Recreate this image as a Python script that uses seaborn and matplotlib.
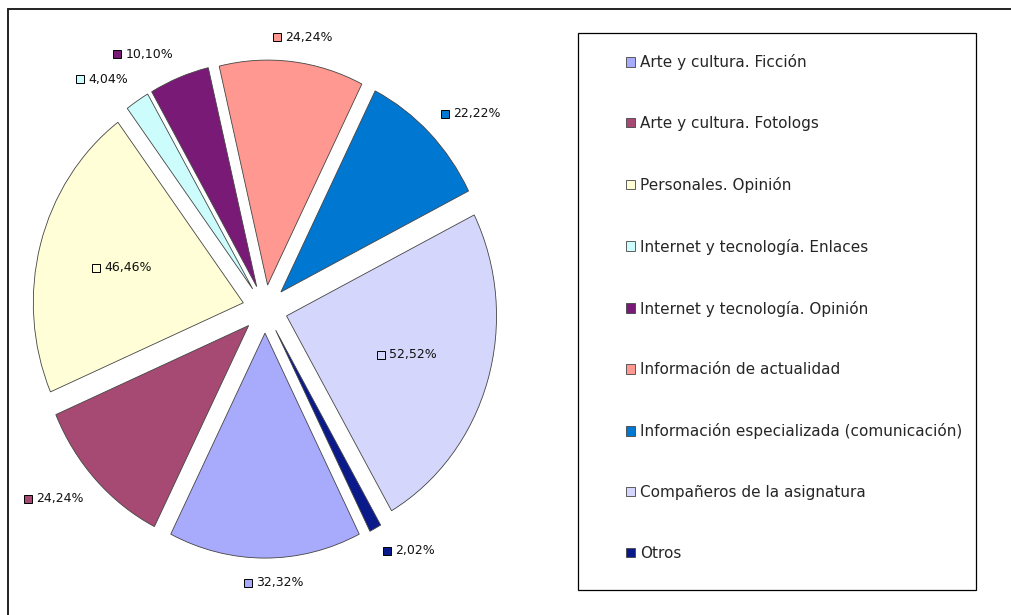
import numpy as np
import matplotlib
matplotlib.use("Agg")
import matplotlib.pyplot as plt
import seaborn as sns
from matplotlib.offsetbox import AnnotationBbox, DrawingArea, TextArea, HPacker
from matplotlib.patches import Rectangle
from matplotlib.lines import Line2D

# Data
categories = [
    "Arte y cultura. Ficción",
    "Arte y cultura. Fotologs",
    "Personales. Opinión",
    "Internet y tecnología. Enlaces",
    "Internet y tecnología. Opinión",
    "Información de actualidad",
    "Información especializada (comunicación)",
    "Compañeros de la asignatura",
    "Otros",
]
values = [32.32, 24.24, 46.46, 4.04, 10.10, 24.24, 22.22, 52.52, 2.02]
colors = ["#A8AAFC", "#A64A74", "#FFFED6", "#CCFCFC", "#7A1A77",
          "#FF9890", "#0078D2", "#D5D6FB", "#0A1A8A"]

sns.set_style("white")
plt.rcParams['font.family'] = ['DejaVu Sans']

W, H = 1012, 615
fig = plt.figure(figsize=(W / 100, H / 100), dpi=100)
ax = fig.add_axes([13 / W, 13.5 / H, 504 / W, 585 / H])

total = sum(values)
start = -90 + 180 * values[0] / total
wedges, _ = ax.pie(values, colors=colors, explode=[0.107] * len(values),
                   startangle=start, counterclock=False,
                   wedgeprops=dict(edgecolor="#444444", linewidth=0.6))
ax.set_aspect('auto')
ax.set_xlim(-1.2, 1.2)
ax.set_ylim(-1.3, 1.3)
ax.axis('off')

# data labels with a small colour key, Excel style
for w, v, c in zip(wedges, values, colors):
    mid = np.deg2rad((w.theta1 + w.theta2) / 2)
    cx, cy = w.center
    co, si = np.cos(mid), np.sin(mid)
    if v / total > 0.2:
        r = 0.6
        align = (0.5, 0.5)
    else:
        r = 1.08
        hx = 0 if co > 0.2 else (1 if co < -0.2 else 0.35)
        vy = 0 if si > 0 else 1
        align = (hx, vy)
    da = DrawingArea(5.8, 5.8, 0, 0)
    da.add_artist(Rectangle((0, 0), 5.8, 5.8, fc=c, ec="black", lw=0.7))
    ta = TextArea(f"{v:.2f}".replace(".", ",") + "%",
                  textprops=dict(fontsize=9, color="#111111"))
    box = HPacker(children=[da, ta], align="center", pad=0, sep=3)
    ab = AnnotationBbox(box, (cx + r * co, cy + r * si), xycoords='data',
                        box_alignment=align, frameon=False, pad=0,
                        annotation_clip=False)
    ax.add_artist(ab)

# legend
fig.legend(wedges, categories, loc='center left',
           bbox_to_anchor=(626 / W, 1 - 307.5 / H), frameon=False,
           fontsize=11, handlelength=0.6, handleheight=0.6,
           handletextpad=0.3, labelspacing=3.0, borderpad=0,
           borderaxespad=0)
fig.add_artist(Rectangle((578 / W, 1 - 590 / H), 398 / W, 557 / H,
                         transform=fig.transFigure, fill=False,
                         ec="black", lw=0.9))

# outer frame (top and left only, as in the screenshot)
fig.add_artist(Line2D([8 / W, 1], [1 - 9 / H, 1 - 9 / H],
                      transform=fig.transFigure, color="#222222", lw=1.4))
fig.add_artist(Line2D([8 / W, 8 / W], [0, 1 - 9 / H],
                      transform=fig.transFigure, color="#222222", lw=1.4))

fig.savefig("out.png", dpi=100)
